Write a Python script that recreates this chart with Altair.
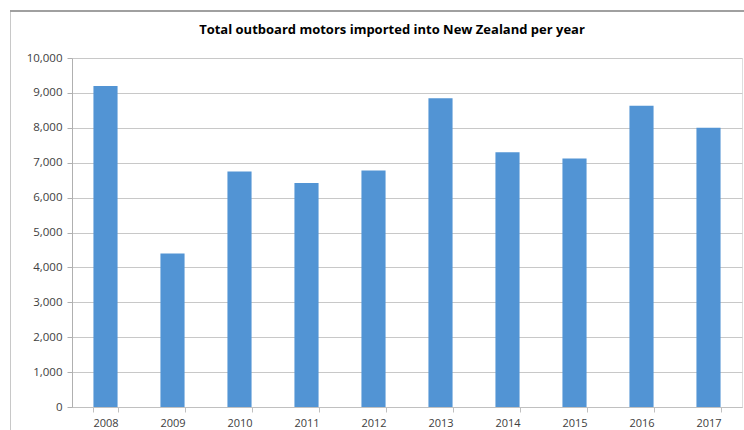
import altair as alt
import pandas as pd

years = ["2008", "2009", "2010", "2011", "2012", "2013", "2014", "2015", "2016", "2017"]
motors = [9200, 4400, 6750, 6420, 6780, 8850, 7300, 7120, 8630, 8000]
title_text = "Total outboard motors imported into New Zealand per year"

df = pd.DataFrame({"year": years, "motors": motors})

FONT = "Open Sans"

bars = alt.Chart(df).mark_bar(color="#5294d4").encode(
    x=alt.X("year:N", sort=years,
            scale=alt.Scale(paddingInner=0.64, paddingOuter=0.32),
            axis=alt.Axis(title=None, labelAngle=0, labelFontSize=11, labelColor="#404040",
                          labelFont=FONT, domainColor="#c0c0c0", tickColor="#c0c0c0",
                          tickBand="extent", tickSize=5, labelPadding=5)),
    y=alt.Y("motors:Q", scale=alt.Scale(domain=[0, 10000]),
            axis=alt.Axis(title=None, values=list(range(0, 10001, 1000)), format=",.0f",
                          labelFontSize=11.5, labelColor="#404040", labelFont=FONT,
                          domainColor="#b0b0b0", tickColor="#b0b0b0", tickSize=5,
                          gridColor="#c8c8c8", gridWidth=1, labelPadding=5)),
)

left_border = alt.Chart(df).mark_rule(color="#c8c8c8", strokeWidth=1, clip=False).encode(
    x=alt.value(-61.5), y=alt.value(-47), y2=alt.value(400))
top_border = alt.Chart(df).mark_rule(color="#a0a0a0", strokeWidth=1.5, clip=False).encode(
    x=alt.value(-61.5), x2=alt.value(700), y=alt.value(-47))

title = alt.Chart(pd.DataFrame({"t": [title_text]})).mark_text(
    font=FONT, fontSize=13, fontWeight="bold", color="#000000",
    align="center", baseline="middle", clip=False
).encode(text="t:N", x=alt.value(320), y=alt.value(-28))

chart = alt.layer(left_border, top_border, bars, title).properties(
    width=670, height=349,
    autosize=alt.AutoSizeParams(type="none"),
    padding={"left": 72, "top": 58, "right": 2, "bottom": 23},
).configure_view(stroke=None).configure(background="white")

chart.save("out.html", embed_options={"renderer": "svg", "actions": False})
